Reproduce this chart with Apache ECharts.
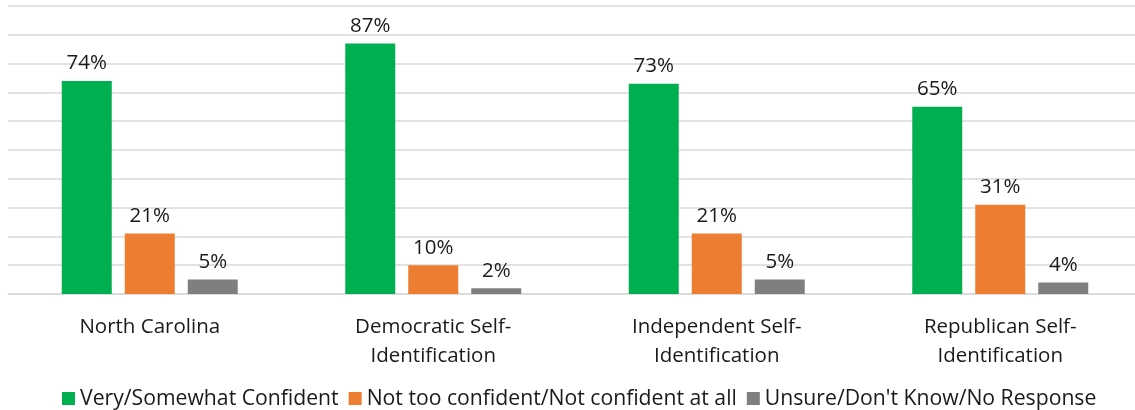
<!DOCTYPE html>
<html>
<head>
<meta charset="utf-8">
<script src="https://cdn.jsdelivr.net/npm/echarts@6/dist/echarts.min.js"></script>
<style>
  html, body { margin: 0; padding: 0; background: #ffffff; overflow: hidden; }
  /* plot runs slightly past the right edge so the gridlines bleed off the page */
  #chart { width: 1142px; height: 410px; }
</style>
</head>
<body>
<div id="chart"></div>
<script>
// Survey groups along the x axis
const categories = [
  'North Carolina',
  'Democratic Self-\nIdentification',
  'Independent Self-\nIdentification',
  'Republican Self-\nIdentification'
];

// Share of respondents (%) per answer
const confident = [74, 87, 73, 65];
const notConfident = [21, 10, 21, 31];
const unsure = [5, 2, 5, 4];

const seriesNames = [
  'Very/Somewhat Confident',
  'Not too confident/Not confident at all',
  "Unsure/Don't Know/No Response"
];
const seriesColors = ['#00B050', '#ED7D31', '#7F7F7F'];

// Value axis: 0–100 with a line every 10
const yMin = 0;
const yMax = 100;
const yInterval = 10;

const font = '"Open Sans", Lato, sans-serif';
const textColor = '#1a1a1a';

function barSeries(name, data, color) {
  return {
    name: name,
    type: 'bar',
    data: data,
    barWidth: 50,
    barGap: '26%',
    itemStyle: { color: color },
    label: {
      show: true,
      position: 'top',
      distance: 7,
      formatter: '{c}%',
      fontFamily: font,
      fontSize: 20.5,
      color: textColor
    }
  };
}

const chart = echarts.init(document.getElementById('chart'), null, { renderer: 'canvas' });
chart.setOption({
  animation: false,
  backgroundColor: '#ffffff',
  grid: { left: 8, top: 6, right: 0, height: 288, containLabel: false },
  legend: {
    top: 383,
    left: 57,
    itemWidth: 13,
    itemHeight: 13,
    itemGap: 10,
    icon: 'rect',
    textStyle: { fontFamily: font, fontSize: 21.2, color: textColor },
    data: seriesNames
  },
  xAxis: {
    type: 'category',
    data: categories,
    axisLine: { show: true, lineStyle: { color: '#D9D9D9', width: 1.5 } },
    axisTick: { show: false },
    axisLabel: {
      fontFamily: font,
      fontSize: 20.5,
      color: textColor,
      lineHeight: 28.5,
      margin: 19,
      interval: 0
    }
  },
  yAxis: {
    type: 'value',
    min: yMin,
    max: yMax,
    interval: yInterval,
    axisLabel: { show: false },
    axisLine: { show: false },
    axisTick: { show: false },
    splitLine: { lineStyle: { color: '#D9D9D9', width: 1.5 } }
  },
  series: [
    barSeries(seriesNames[0], confident, seriesColors[0]),
    barSeries(seriesNames[1], notConfident, seriesColors[1]),
    barSeries(seriesNames[2], unsure, seriesColors[2])
  ]
});
</script>
</body>
</html>
